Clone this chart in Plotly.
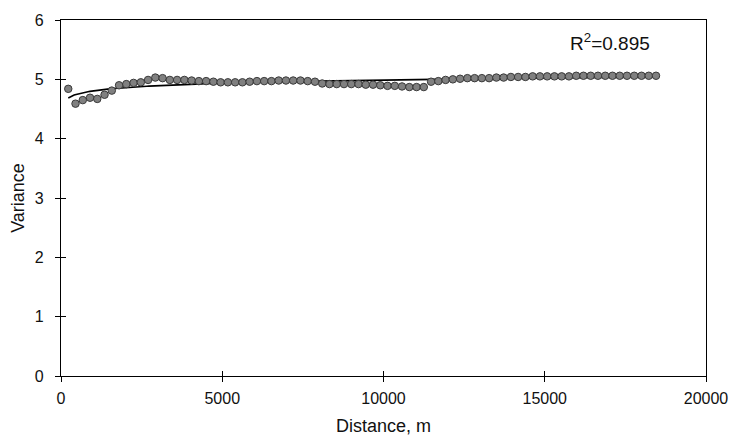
import numpy as np
import plotly.graph_objects as go

distance = [225 * i for i in range(1, 83)]
variance = [
    4.84, 4.59, 4.65, 4.69, 4.67, 4.74, 4.81, 4.90, 4.92, 4.94,
    4.95, 4.99, 5.03, 5.02, 4.99, 4.99, 4.99, 4.98, 4.97, 4.97,
    4.96, 4.95, 4.95, 4.95, 4.95, 4.96, 4.97, 4.97, 4.97, 4.98,
    4.98, 4.98, 4.98, 4.97, 4.96, 4.93, 4.92, 4.92, 4.92, 4.92,
    4.92, 4.91, 4.91, 4.90, 4.89, 4.89, 4.88, 4.87, 4.87, 4.87,
    4.96, 4.97, 4.99, 5.00, 5.01, 5.02, 5.02, 5.02, 5.02, 5.03,
    5.03, 5.04, 5.04, 5.04, 5.05, 5.05, 5.05, 5.05, 5.05, 5.05,
    5.06, 5.06, 5.06, 5.06, 5.06, 5.06, 5.06, 5.06, 5.06, 5.06,
    5.06, 5.06,
]
x_ticks = [0, 5000, 10000, 15000, 20000]
x_tick_labels = ["0", "5000", "10000", "15000", "20000"]
y_ticks = [0, 1, 2, 3, 4, 5, 6]
y_tick_labels = ["0", "1", "2", "3", "4", "5", "6"]
r2_label = "R<sup>2</sup>=0.895"

x = np.array(distance, dtype=float)
y = np.array(variance, dtype=float)
a, b = np.polyfit(np.log(x), y, 1)
xf = np.linspace(x.min(), x.max(), 300)
yf = a * np.log(xf) + b

font = "Liberation Sans, Arial, sans-serif"
fig = go.Figure()
fig.add_trace(go.Scatter(x=xf, y=yf, mode="lines",
                         line=dict(color="black", width=1.6), hoverinfo="skip"))
fig.add_trace(go.Scatter(x=distance, y=variance, mode="markers",
                         marker=dict(size=7.5, color="#808080",
                                     line=dict(color="#3a3a3a", width=1))))
fig.add_trace(go.Scatter(x=[0], y=[0], xaxis="x2", yaxis="y2", mode="markers",
                         marker=dict(opacity=0), hoverinfo="skip"))

axis_common = dict(showgrid=False, zeroline=False, showline=True, automargin=False,
                   linecolor="black", linewidth=1.2, ticks="outside",
                   ticklen=5, tickcolor="black", tickwidth=1.2,
                   tickfont=dict(family=font, size=16, color="#111"))
fig.update_layout(
    width=730, height=442,
    margin=dict(l=61, r=24, t=20, b=66),
    plot_bgcolor="white", paper_bgcolor="white",
    showlegend=False,
    xaxis=dict(range=[0, 20000], tickvals=x_ticks, ticktext=x_tick_labels, mirror=True,
               ticklabelstandoff=3,
               title=dict(text="Distance, m", font=dict(family=font, size=18, color="#111"),
                          standoff=13),
               **axis_common),
    yaxis=dict(range=[0, 6], tickvals=y_ticks, ticktext=y_tick_labels, mirror=True,
               ticklabelstandoff=8,
               title=dict(text="Variance", font=dict(family=font, size=18, color="#111"),
                          standoff=5),
               **axis_common),
    xaxis2=dict(range=[0, 20000], tickvals=x_ticks, overlaying="x", showticklabels=False,
                showgrid=False, zeroline=False, showline=False, ticks="inside",
                automargin=False,
                ticklen=5, tickcolor="black", tickwidth=1.2, side="bottom"),
    yaxis2=dict(range=[0, 6], tickvals=y_ticks, overlaying="y", showticklabels=False,
                showgrid=False, zeroline=False, showline=False, ticks="inside",
                automargin=False,
                ticklen=5, tickcolor="black", tickwidth=1.2, side="left"),
    annotations=[dict(text=r2_label, x=0.851, y=0.938, xref="paper", yref="paper",
                      showarrow=False, xanchor="center", yanchor="middle",
                      font=dict(family=font, size=19, color="#111"))],
)
fig.write_html("out.html", config={"displayModeBar": False},
               post_script="document.body.style.margin='0';")
